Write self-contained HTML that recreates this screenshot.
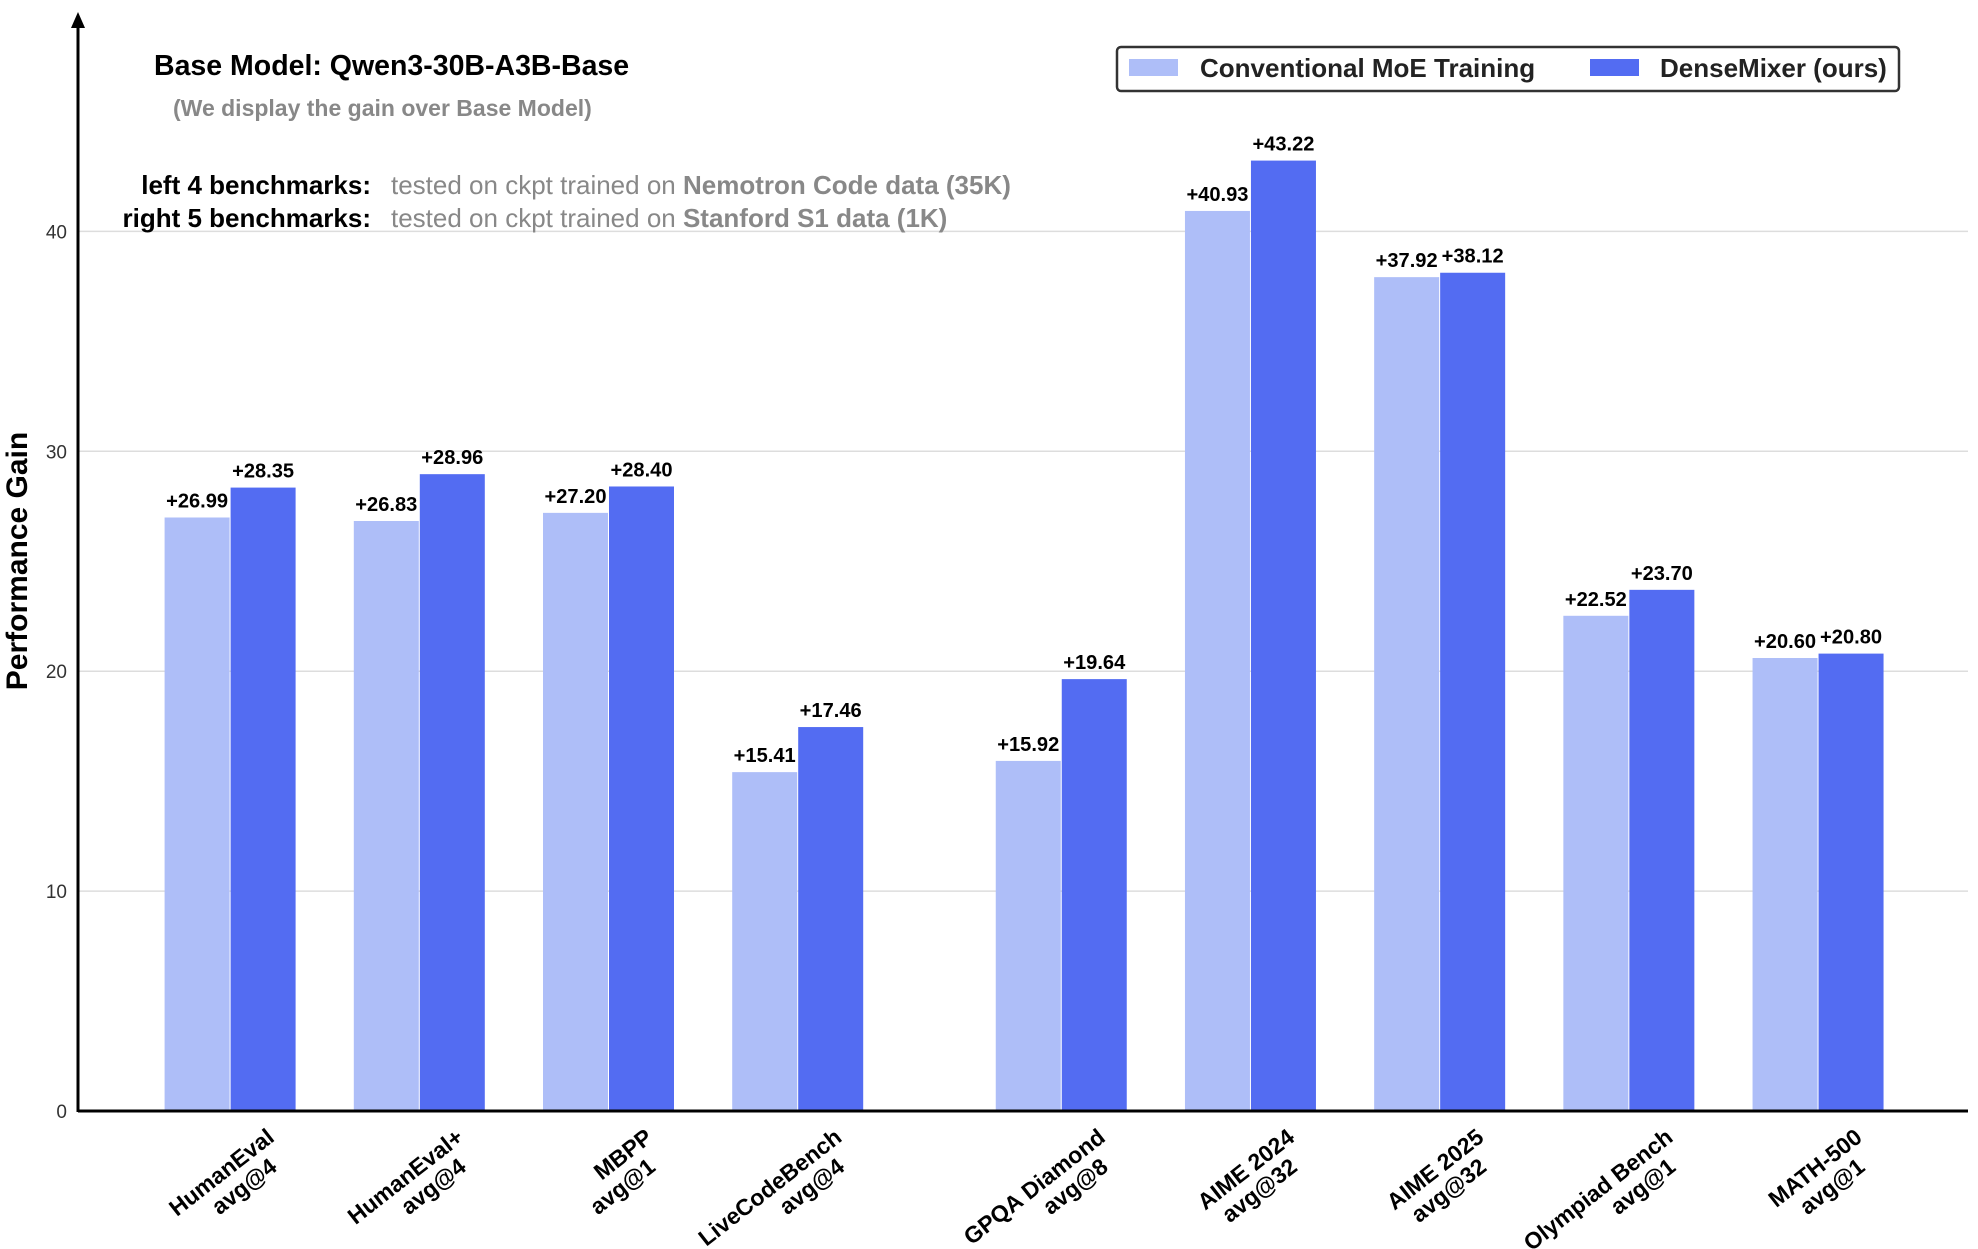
<!DOCTYPE html>
<html><head><meta charset="utf-8"><style>
html,body{margin:0;padding:0;background:#fff;}
svg{display:block;font-family:"Liberation Sans",Arial,sans-serif;}
</style></head><body>
<svg id="chart" width="1978" height="1249" viewBox="0 0 1978 1249">
  <g id="grid"></g>
  <g id="bars"></g>
  <g id="labels"></g>
  <g id="xlabels"></g>
  <g id="yticks"></g>
  <line x1="78" y1="1111" x2="1968" y2="1111" stroke="#000" stroke-width="3"/>
  <line x1="78" y1="24" x2="78" y2="1112" stroke="#000" stroke-width="3"/>
  <polygon points="78,12 71,28 85,28" fill="#000"/>
  <text x="0" y="0" transform="translate(27,561) rotate(-90)" text-anchor="middle" font-size="30" font-weight="bold">Performance Gain</text>
  <text x="154" y="75" font-size="28.5" font-weight="bold">Base Model: Qwen3-30B-A3B-Base</text>
  <text x="173" y="116" font-size="23" font-weight="bold" fill="#888">(We display the gain over Base Model)</text>
  <g>
    <text x="371" y="194" text-anchor="end" font-size="26" font-weight="bold">left 4 benchmarks:</text>
    <text x="391" y="194" font-size="26" fill="#888">tested on ckpt trained on <tspan font-weight="bold">Nemotron Code data (35K)</tspan></text>
  </g>
  <g>
    <text x="371" y="227" text-anchor="end" font-size="26" font-weight="bold">right 5 benchmarks:</text>
    <text x="391" y="227" font-size="26" fill="#888">tested on ckpt trained on <tspan font-weight="bold">Stanford S1 data (1K)</tspan></text>
  </g>
  <g>
    <rect x="1117" y="47" width="782" height="44" rx="4" fill="#fff" stroke="#333" stroke-width="2.5"/>
    <g>
      <rect x="1129" y="59" width="49" height="17" fill="#aebef8"/>
      <text x="1200" y="77" font-size="26" font-weight="bold" fill="#222">Conventional MoE Training</text>
    </g>
    <g>
      <rect x="1590" y="59" width="49" height="17" fill="#536cf2"/>
      <text x="1660" y="77" font-size="26" font-weight="bold" fill="#222">DenseMixer (ours)</text>
    </g>
  </g>
</svg>
<script>
const categories = ["HumanEval", "HumanEval+", "MBPP", "LiveCodeBench", "GPQA Diamond", "AIME 2024", "AIME 2025", "Olympiad Bench", "MATH-500"];
const subLabels = ["avg@4", "avg@4", "avg@1", "avg@4", "avg@8", "avg@32", "avg@32", "avg@1", "avg@1"];
const conventional = [26.99, 26.83, 27.20, 15.41, 15.92, 40.93, 37.92, 22.52, 20.60];
const denseMixer = [28.35, 28.96, 28.40, 17.46, 19.64, 43.22, 38.12, 23.70, 20.80];
const yTicks = [0, 10, 20, 30, 40];

const NS = "http://www.w3.org/2000/svg";
const y0 = 1111, pxPerUnit = 21.99;
function yScale(v){ return y0 - v * pxPerUnit; }
function xCenter(i){ const slot = i + (i >= 4 ? 0.393 : 0); return 229.6 + slot * 189.2; }
const barW = 65;
function mk(tag, attrs, parent){ const e = document.createElementNS(NS, tag); for (const k in attrs) e.setAttribute(k, attrs[k]); parent.appendChild(e); return e; }

const grid = document.getElementById('grid'), yt = document.getElementById('yticks');
yTicks.forEach(t => {
  if (t > 0) {
    const l = mk('line', {x1: 78, x2: 1968, y1: yScale(t), y2: yScale(t), stroke: '#ddd', 'stroke-width': 1.5}, grid);
    
    
  }
  const tx = mk('text', {x: 67, y: yScale(t) + 7, 'text-anchor': 'end', 'font-size': 19, fill: '#333'}, yt);
  tx.textContent = t;
  
  
});

const bars = document.getElementById('bars'), labels = document.getElementById('labels'), xl = document.getElementById('xlabels');
categories.forEach((c, i) => {
  const cx = xCenter(i);
  [[conventional[i], '#aebef8', cx - barW, 'conventional'], [denseMixer[i], '#536cf2', cx + 1, 'densemixer']].forEach(([v, col, x, s]) => {
    const r = mk('rect', {x: x, y: yScale(v), width: barW, height: y0 - yScale(v), fill: col}, bars);
    
    
    const t = mk('text', {x: x + barW / 2, y: yScale(v) - 10, 'text-anchor': 'middle', 'font-size': 20, 'font-weight': 'bold', 'textLength': 62, 'lengthAdjust': 'spacingAndGlyphs'}, labels);
    t.textContent = '+' + v.toFixed(2);
    
    
  });
  const g = mk('g', {transform: 'translate(' + (cx + 46) + ',1140) rotate(-38)'}, xl);
  
  
  const t1 = mk('text', {x: 0, y: 0, 'text-anchor': 'end', 'font-size': 23, 'font-weight': 'bold'}, g);
  t1.textContent = c;
  const t2 = mk('text', {x: -16, y: 25, 'text-anchor': 'end', 'font-size': 23, 'font-weight': 'bold'}, g);
  t2.textContent = subLabels[i];
});
</script>
</body></html>
